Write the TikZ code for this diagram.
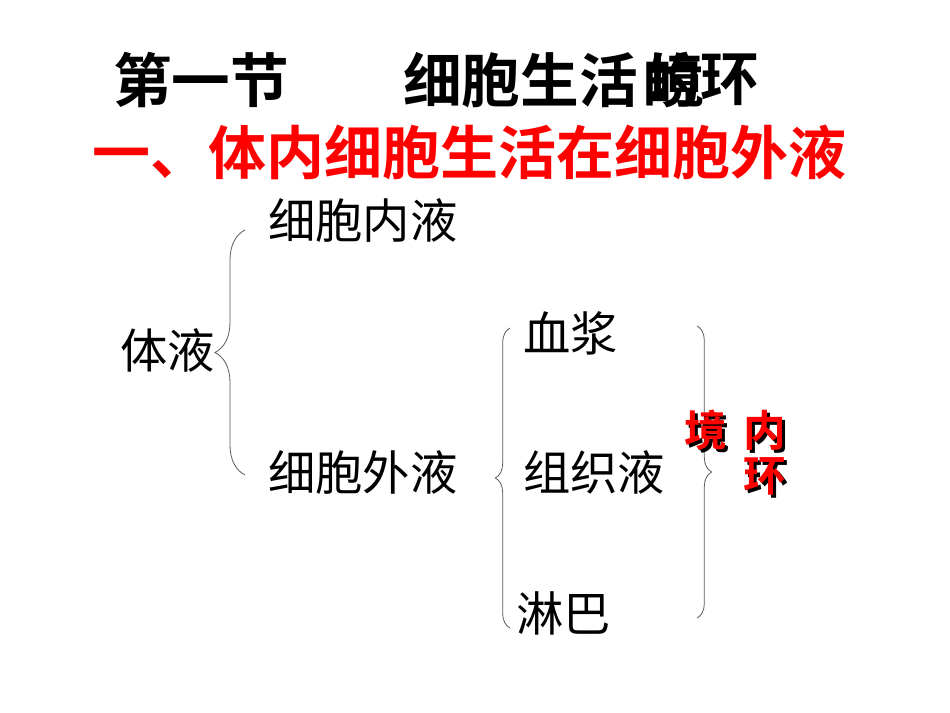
\documentclass[tikz,border=0pt]{standalone}
\usepackage{fontspec}
\newfontfamily\cjk{Noto Sans CJK SC}[BoldFont={* Bold}]
\newfontfamily\cjkb{Noto Sans CJK SC Bold}
\usetikzlibrary{decorations.pathreplacing}
\begin{document}
\begin{tikzpicture}[x=0.75pt,y=-0.75pt,
  big/.style={font=\cjkb\fontsize{44}{46}\selectfont,inner sep=0,anchor=west},
  red/.style={font=\cjkb\fontsize{43.5}{46}\selectfont,inner sep=0,anchor=west,text=red},
  mid/.style={font=\cjk\fontsize{35.5}{37}\selectfont,inner sep=0,anchor=west},
  redt/.style={font=\cjkb\fontsize{32}{34}\selectfont,inner sep=0,text=red},
  shad/.style={font=\cjkb\fontsize{32}{34}\selectfont,inner sep=0,text=black},
  br/.style={decorate,draw=gray!70!black,line width=0.6pt}]
\useasboundingbox (0,0) rectangle (950,713);
\node[big] (t1) at (113,80) {第一节};
\node[big] (t2) at (403,80) {细胞生活};
\node[big] (t3) at (642,80) {的};
\node[big] (t4) at (646,80) {境};
\node[big] (t5) at (700,80) {环};
\node[red] (h) at (92,152) {一、体内细胞生活在细胞外液};
\node[mid] (a) at (268,220) {细胞内液};
\node[mid] (b) at (120,350) {体液};
\node[mid] (c) at (268,472) {细胞外液};
\node[mid] (d) at (523,333) {血浆};
\node[mid] (e) at (523,472) {组织液};
\node[mid] (f) at (516,613) {淋巴};
\coordinate (p1) at (245,475); \coordinate (p2) at (245,230);
\draw[br,decoration={brace,amplitude=22.5pt}] (p1) -- (p2);
\coordinate (q1) at (510,628); \coordinate (q2) at (510,328);
\draw[br,decoration={brace,amplitude=11pt}] (q1) -- (q2);
\coordinate (r1) at (697,326); \coordinate (r2) at (697,618);
\draw[br,decoration={brace,amplitude=11pt}] (r1) -- (r2);
\foreach \n/\ch/\x/\y in {s1/境/706/430,s2/内/765/430,s3/环/765/476}{
  \node[shad] (\n s) at (\x+3,\y+3) {\ch};
  \node[redt] (\n) at (\x,\y) {\ch};
}
\end{tikzpicture}
\end{document}
